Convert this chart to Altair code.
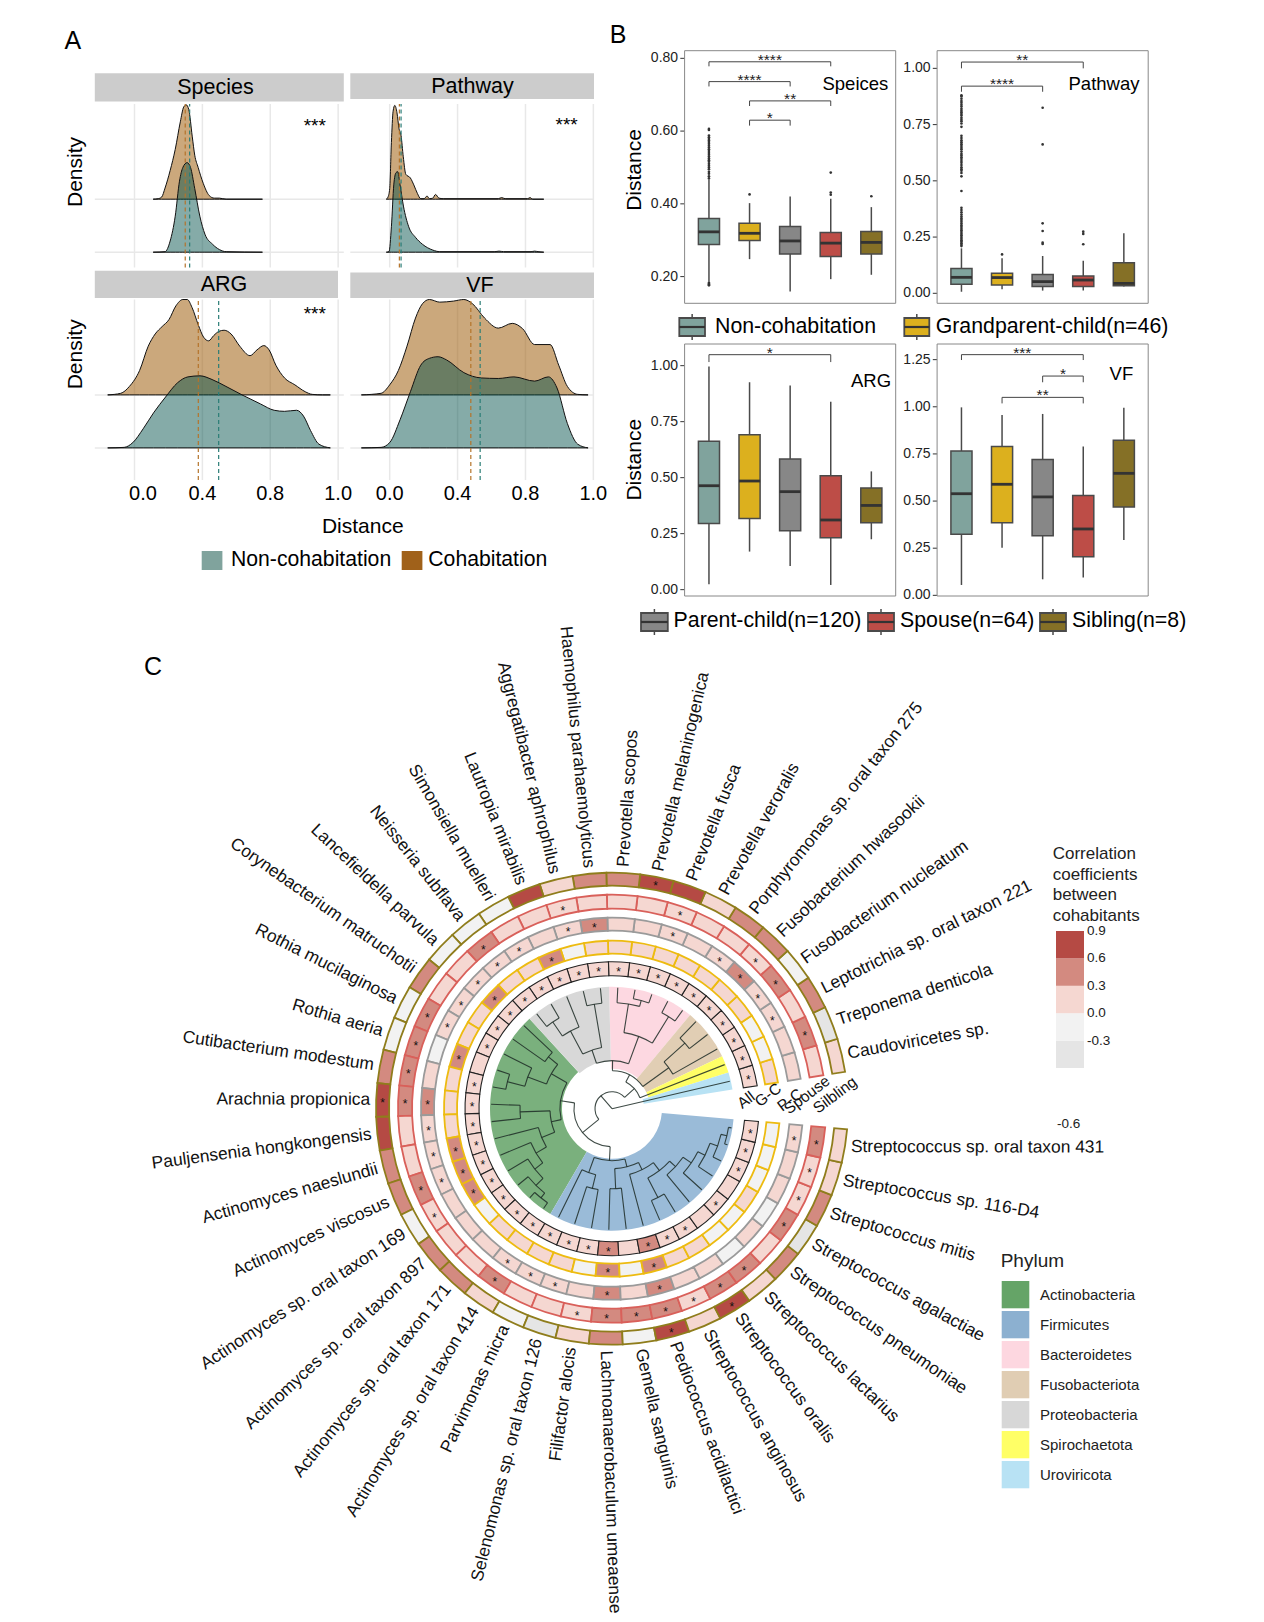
import altair as alt
import pandas as pd

FONT = "Liberation Sans"
W, H = 1248, 1606
ONE = alt.Data(values=[{"k": 0}])

# ---------- Panel A: ridge densities (x in distance units, h in ridge heights) ----------
sp_tan_x = [.11,.14,.16,.18,.21,.24,.27,.29,.305,.32,.34,.355,.375,.405,.44,.47,.50,.54,.754]
sp_tan_h = [0,.01,.04,.21,.54,.94,1.46,1.74,1.78,1.69,1.19,.83,.60,.30,.07,.02,.02,0,0]
sp_grn_x = [.11,.18,.21,.24,.265,.285,.31,.33,.355,.385,.415,.46,.50,.54,.754]
sp_grn_h = [0,.01,.21,.68,1.34,1.60,1.69,1.60,1.20,.68,.34,.15,.05,.01,0]
pw_tan_x = [-.02,-.01,0,.01,.02,.03,.043,.055,.067,.08,.095,.122,.142,.163,.183,.203,.22,.234,.254,.27,.29,.315,.64,.66,.68,.813,.827,.843,.908]
pw_tan_h = [0,.04,.2,1.07,1.66,1.77,1.63,1.33,1.2,.8,.47,.4,.27,.11,.01,.01,.06,.01,.02,.09,.02,.01,.01,.03,.01,.01,.03,0,0]
pw_grn_x = [-.02,-.004,.01,.024,.037,.047,.061,.081,.112,.152,.193,.254,.295,.62,.644,.671,.833,.854,.874,.908]
pw_grn_h = [0,.01,.48,1.27,1.5,1.52,1.27,.87,.48,.28,.15,.04,.01,.01,.02,.01,.01,.02,.01,0]
ar_tan_x = [-.158,-.081,-.03,.03,.081,.122,.163,.203,.244,.285,.311,.339,.376,.407,.437,.467,.498,.528,.569,.62,.681,.722,.762,.793,.833,.884,.945,1.006,1.047,1.108,1.154]
ar_tan_h = [0,.03,.16,.46,.92,1.15,1.29,1.42,1.68,1.8,1.8,1.65,1.32,1.09,1.02,1.12,1.2,1.22,1.15,.92,.74,.85,.93,.85,.56,.32,.19,.06,.01,0,0]
ar_grn_x = [-.158,-.061,-.01,.051,.112,.183,.254,.315,.386,.457,.539,.64,.742,.823,.884,.955,.996,1.037,1.087,1.154]
ar_grn_h = [0,.01,.1,.36,.66,.96,1.23,1.34,1.36,1.29,1.16,.99,.83,.71,.69,.71,.6,.33,.07,0]
vf_tan_x = [-.167,-.051,0,.051,.102,.152,.193,.234,.295,.376,.437,.488,.559,.64,.722,.783,.854,.945,.996,1.047,1.108,1.169]
vf_tan_h = [0,.03,.19,.46,.92,1.45,1.72,1.8,1.75,1.77,1.8,1.72,1.45,1.26,1.35,1.25,.95,.95,.56,.16,.01,0]
vf_grn_x = [-.167,-.051,0,.061,.122,.183,.234,.285,.335,.437,.539,.64,.732,.854,.935,.986,1.047,1.108,1.169]
vf_grn_h = [0,.01,.1,.53,1.06,1.56,1.69,1.72,1.66,1.42,1.32,1.31,1.34,1.26,1.34,1.13,.46,.07,0]
ridge_ticks = [0, .4, .8, 1.2]
ridge_tick_text = ["0.0", "0.4", "0.8", "1.0"]

# ---------- Panel B: box statistics ----------
groups = ["Non-cohabitation", "Grandparent-child(n=46)", "Parent-child(n=120)", "Spouse(n=64)", "Sibling(n=8)"]
box_colors = ["#80a39d", "#dcb01e", "#878787", "#bd4d47", "#857026"]

bs_lo = [.186,.248,.159,.193,.205]
bs_q1 = [.288,.299,.262,.255,.262]
bs_md = [.323,.319,.298,.292,.294]
bs_q3 = [.360,.347,.338,.321,.324]
bs_hi = [.466,.402,.42,.414,.391]
bs_out = [[.470,.476,.483,.488,.495,.5,.505,.51,.516,.52,.525,.53,.535,.54,.545,.55,.555,.56,.565,.57,.574,.578,.583,.588,.603,.606,.183,.18,.178,.176],
          [.426],[],[.486,.431,.425],[.421]]
bs_br = [(1,4,.7905,.778,"****"),(1,3,.736,.7227,"****"),(2,4,.683,.669,"**"),(2,3,.630,.615,"*")]

bp_lo = [.007,.018,.012,.012,.03]
bp_q1 = [.040,.037,.03,.03,.034]
bp_md = [.071,.070,.052,.059,.044]
bp_q3 = [.110,.089,.084,.077,.136]
bp_hi = [.2,.156,.166,.145,.267]
bp_out = [[.21,.216,.223,.23,.236,.243,.25,.258,.265,.272,.28,.287,.295,.302,.31,.318,.326,.333,.341,.35,.36,.37,.38,
           .455,.52,.535,.545,.552,.56,.57,.58,.588,.597,.605,.613,.62,.63,.64,.647,.655,.663,.672,.68,.69,.70,.74,
           .755,.765,.772,.78,.79,.797,.805,.812,.82,.83,.838,.847,.855,.865,.875,.88],
          [.173],[.825,.662,.311,.277,.225,.219],[.274,.264,.218],[]]
bp_br = [(1,4,1.028,1.0,"**"),(1,3,.921,.896,"****")]

ba_lo = [.024,.170,.106,.021,.225]
ba_q1 = [.295,.318,.263,.232,.299]
ba_md = [.464,.485,.4375,.311,.376]
ba_q3 = [.662,.692,.583,.509,.454]
ba_hi = [.996,.926,.911,.839,.528]
ba_br = [(1,4,1.049,1.016,"*")]

bv_lo = [.055,.253,.085,.095,.293]
bv_q1 = [.324,.385,.316,.205,.469]
bv_md = [.539,.589,.522,.352,.647]
bv_q3 = [.766,.790,.72,.530,.822]
bv_hi = [.997,.956,.962,.79,.995]
bv_br = [(1,4,1.2765,1.248,"***"),(3,4,1.163,1.13,"*"),(2,4,1.05,1.018,"**")]

# ---------- Panel C: circular heat map ----------
species = ["Caudoviricetes sp.","Treponema denticola","Leptotrichia sp. oral taxon 221","Fusobacterium nucleatum",
 "Fusobacterium hwasookii","Porphyromonas sp. oral taxon 275","Prevotella veroralis","Prevotella fusca",
 "Prevotella melaninogenica","Prevotella scopos","Haemophilus parahaemolyticus","Aggregatibacter aphrophilus",
 "Lautropia mirabilis","Simonsiella muelleri","Neisseria subflava","Lancefieldella parvula",
 "Corynebacterium matruchotii","Rothia mucilaginosa","Rothia aeria","Cutibacterium modestum","Arachnia propionica",
 "Pauljensenia hongkongensis","Actinomyces naeslundii","Actinomyces viscosus","Actinomyces sp. oral taxon 169",
 "Actinomyces sp. oral taxon 897","Actinomyces sp. oral taxon 171","Actinomyces sp. oral taxon 414","Parvimonas micra",
 "Selenomonas sp. oral taxon 126","Filifactor alocis","Lachnoanaerobaculum umeaense","Gemella sanguinis",
 "Pediococcus acidilactici","Streptococcus anginosus","Streptococcus oralis","Streptococcus lactarius",
 "Streptococcus pneumoniae","Streptococcus agalactiae","Streptococcus mitis","Streptococcus sp. 116-D4",
 "Streptococcus sp. oral taxon 431"]
label_tilt = [3,3,3,2.5,2.5,3,1.5,2,2,1,0,0,0,0,0,0,0,0,-2,-2,-2,-1.5,-1.5,-2,-2.6,-4,-4,-3.5,-1,-4,-2,
              -3.5,-6,-5.5,-6,-5,-6.5,-7.5,-5,-9,-8,-9]
d, m, l, n, g = .75, .45, .15, -.15, -.45
ring_all = [l,l,l,l,l,l,l,l,l,l,l,l,l,l,l,l,l,l,l,l,l,l,l,l,l,l,l,l,l,l,l,m,l,m,l,l,l,l,l,l,l,l]
ring_gc  = [l,n,n,l,l,l,l,l,l,l,l,n,m,l,l,m,l,l,m,l,l,l,m,m,m,n,l,l,l,l,n,m,n,m,l,l,n,n,l,n,n,n]
ring_pc  = [l,l,l,l,m,l,l,l,l,l,m,l,l,l,l,l,l,l,n,l,m,l,l,l,l,l,l,l,l,l,l,m,l,m,l,l,n,l,n,l,l,l]
ring_sp  = [l,m,l,m,l,l,l,l,l,l,l,l,l,l,m,l,l,m,m,m,m,l,l,m,l,l,l,m,l,l,l,m,m,m,l,m,m,l,m,l,l,m]
ring_si  = [l,g,m,n,m,m,l,d,d,m,m,l,d,n,n,n,m,n,n,m,d,d,m,m,n,m,m,l,n,g,l,m,n,d,l,d,l,m,g,m,l,l]
stars_all = [i for i in range(42) if i not in (18,32,36,38)]
stars_gc = [12,15,18,22,23,24,31,33]
stars_pc = [2,3,4,5,7,10,11,13,14,15,16,17,20,21,22,23,27,28,29,31,33,41]
stars_sp = [1,3,4,7,11,14,17,18,19,20,23,24,27,30,31,32,33,34,35,36,38,39,40,41]
stars_si = [8,20,33,35]

phyla = ["Actinobacteria","Firmicutes","Bacteroidetes","Fusobacteriota","Proteobacteria","Spirochaetota","Uroviricota"]
phylum_colors = ["#7ab07d","#9abbd8","#fdd8e1","#e1ceb4","#d8d8d8","#ffff66","#b8e2f4"]
phylum_first = [15,28,5,2,10,1,0]
phylum_last = [28,42,10,5,15,2,1]
phylum_inner = [50,50,40,38,48,38,32]

FUSO = (70,[2,(98,[3,4])])
BACT = (77,[(108,[5,6]),(106,[(112,[7,8]),9])])
PROT = (62,[(106,[10,11]),(88,[12,(105,[13,14])])])
ACTI = (52,[(70,[(82,[15,16]),(90,[17,(108,[18,19])])]),
            (62,[(92,[20,21]),(76,[22,(88,[23,(98,[24,(108,[25,(114,[26,27])])])])])])])
FIRM = (52,[(68,[28,(82,[29,30])]),
            (60,[(80,[31,32]),(68,[33,(78,[(100,[34,35]),(86,[36,(96,[37,(104,[38,(112,[39,(118,[40,41])])])])])])])])])
TREE = (0,[0,(17,[(30,[1,(38,[FUSO,(48,[BACT,PROT])])]),(38,[ACTI,FIRM])])])
LEAF_R = 121

heat_levels = [-.3, 0, .3, .6]
heat_colors = ["#e5e5e5","#f2f2f2","#f5d7d1","#d38a80","#b54a44"]

# ---------- helpers ----------
def label(text, x, y, size, angle=0, align="center", color="black"):
    return alt.Chart(ONE).mark_text(text=text, fontSize=size, font=FONT, align=align, baseline="middle",
                                    angle=angle, color=color).encode(x=alt.value(x-8), y=alt.value(y-8))

def rect(x0, x1, y0, y1, **kw):
    return alt.Chart(ONE).mark_rect(**kw).encode(x=alt.value(x0-8), x2=alt.value(x1-8), y=alt.value(y0-8), y2=alt.value(y1-8))

def vrule(x, y0, y1, **kw):
    return alt.Chart(ONE).mark_rule(**kw).encode(x=alt.value(x-8), y=alt.value(y0-8), y2=alt.value(y1-8))

def hrule(x0, x1, y, **kw):
    return alt.Chart(ONE).mark_rule(**kw).encode(x=alt.value(x0-8), x2=alt.value(x1-8), y=alt.value(y-8))

UNIT_X, UNIT_Y = 169.7, 53.0
TAN, GRN = "#a06010", "#005049"

def ridge_panel(curves, x0, xl, xr, y0, ytop, ybot, dash, dash_bot, tick_values=None):
    xs = alt.Scale(domain=[(xl-x0)/UNIT_X, (xr-x0)/UNIT_X], range=[xl-8, xr-8], nice=False, zero=False)
    ys = alt.Scale(domain=[(y0-ybot)/UNIT_Y, (y0-ytop)/UNIT_Y], range=[ybot-8, ytop-8], nice=False, zero=False)
    hi_v, lo_v = (y0-ytop)/UNIT_Y, (y0-ybot)/UNIT_Y
    vg = pd.DataFrame({"v": ridge_ticks, "lo": lo_v, "hi": hi_v, "s": ridge_tick_text})
    hg = pd.DataFrame({"b": [0, 1], "l": (xl-x0)/UNIT_X, "r": (xr-x0)/UNIT_X})
    parts = [
        alt.Chart(vg).mark_rule(color="#e8e8e8", strokeWidth=1.5).encode(
            x=alt.X("v:Q", scale=xs, axis=None), y=alt.Y("lo:Q", scale=ys, axis=None), y2="hi:Q"),
        alt.Chart(hg).mark_rule(color="#e8e8e8", strokeWidth=1.5).encode(
            x=alt.X("l:Q", scale=xs, axis=None), x2="r:Q", y=alt.Y("b:Q", scale=ys, axis=None)),
    ]
    if tick_values is not None:
        parts.append(alt.Chart(vg[vg.v.isin(tick_values)]).mark_text(font=FONT, fontSize=20, baseline="middle", color="black").encode(
            x=alt.X("v:Q", scale=xs, axis=None), y=alt.value(493.5-8), text="s:N"))
    for (cx, ch, base, col, op) in curves:
        df = pd.DataFrame({"x": cx, "top": [base+h for h in ch], "base": base})
        parts.append(alt.Chart(df).mark_area(interpolate="monotone", fill=col, fillOpacity=op, stroke="#111", strokeWidth=1).encode(
            x=alt.X("x:Q", scale=xs, axis=None), y=alt.Y("top:Q", scale=ys, axis=None), y2="base:Q"))
    dlo = (y0-dash_bot)/UNIT_Y
    for v, col in zip(dash, ["#b5742b", "#2a7d76"]):
        df = pd.DataFrame({"x": [v], "a": [dlo], "b": [hi_v]})
        parts.append(alt.Chart(df).mark_rule(color=col, strokeWidth=1.2, strokeDash=[4, 3]).encode(
            x=alt.X("x:Q", scale=xs, axis=None), y=alt.Y("a:Q", scale=ys, axis=None), y2="b:Q"))
    return alt.layer(*parts)

def box_panel(xl, xr, yt, yb, dom, ticks, lo, q1, md, q3, hi, outliers, brackets):
    xs = alt.Scale(domain=[.4, 5.6], range=[xl-8, xr-8], nice=False, zero=False)
    ys = alt.Scale(domain=dom, range=[yb-8, yt-8], nice=False, zero=False)
    df = pd.DataFrame({"p": [1,2,3,4,5], "lo": lo, "q1": q1, "md": md, "q3": q3, "hi": hi, "g": groups})
    df["a"] = df["p"]-.26
    df["b"] = df["p"]+.26
    xq = lambda f: alt.X(f, scale=xs, axis=None)
    yq = lambda f: alt.Y(f, scale=ys, axis=None)
    tk = pd.DataFrame({"v": ticks, "s": [f"{t:.2f}" for t in ticks]})
    parts = [
        alt.Chart(tk).mark_rule(color="#333", strokeWidth=1).encode(x=alt.value(xl-8-4.3), x2=alt.value(xl-8), y=yq("v:Q")),
        alt.Chart(tk).mark_text(font=FONT, fontSize=14, align="right", baseline="middle", color="#222").encode(
            x=alt.value(xl-8-6.5), y=yq("v:Q"), text="s:N"),
        alt.Chart(df).mark_rule(color="#4a4a4a", strokeWidth=1.5).encode(x=xq("p:Q"), y=yq("lo:Q"), y2="hi:Q"),
        alt.Chart(df).mark_rect(stroke="#4a4a4a", strokeWidth=1.5).encode(
            x=xq("a:Q"), x2="b:Q", y=yq("q1:Q"), y2="q3:Q",
            color=alt.Color("g:N", scale=alt.Scale(domain=groups, range=box_colors), legend=None)),
        alt.Chart(df).mark_rule(color="#333", strokeWidth=2.8).encode(x=xq("a:Q"), x2="b:Q", y=yq("md:Q")),
    ]
    rows = [{"p": i+1, "v": v} for i, vs in enumerate(outliers) for v in vs]
    if rows:
        parts.append(alt.Chart(pd.DataFrame(rows)).mark_circle(color="#333", size=7, opacity=1).encode(x=xq("p:Q"), y=yq("v:Q")))
    if brackets:
        br = pd.DataFrame([{"a": a, "b": b, "top": t, "tip": k, "mid": (a+b)/2, "s": s} for a, b, t, k, s in brackets])
        parts += [
            alt.Chart(br).mark_rule(color="#444", strokeWidth=1).encode(x=xq("a:Q"), x2="b:Q", y=yq("top:Q")),
            alt.Chart(br).mark_rule(color="#444", strokeWidth=1).encode(x=xq("a:Q"), y=yq("top:Q"), y2="tip:Q"),
            alt.Chart(br).mark_rule(color="#444", strokeWidth=1).encode(x=xq("b:Q"), y=yq("top:Q"), y2="tip:Q"),
            alt.Chart(br).mark_text(font=FONT, fontSize=15.5, baseline="middle", dy=-2, color="#222").encode(
                x=xq("mid:Q"), y=yq("top:Q"), text="s:N"),
        ]
    parts.append(rect(xl, xr, yt, yb, fill="white", fillOpacity=0, stroke="#888", strokeWidth=1))
    return alt.layer(*parts)

def swatch(x0, x1, y0, y1, wy0, wy1, col):
    xm = (x0+x1)/2
    ym = (y0+y1)/2
    return [vrule(xm, wy0, wy1, color="#4a4a4a", strokeWidth=1.5),
            rect(x0, x1, y0, y1, fill=col, stroke="#4a4a4a", strokeWidth=1.8),
            hrule(x0, x1, ym, color="#333", strokeWidth=2.2)]

# ---------- polar helpers ----------
CX, CY = 612-8, 1108.7-8
TH = alt.Scale(type="linear", domain=[0, 42], range=[1.41372, -4.62512], nice=False, zero=False)
RS = alt.Scale(type="linear", domain=[0, 300], range=[0, 300], nice=False, zero=False)
POS = dict(x=alt.value(CX), y=alt.value(CY))
def T(f): return alt.Theta(f, scale=TH, stack=None)
def R(f): return alt.Radius(f, scale=RS, stack=None)

def ring(values, stars, r0, r1, col, sw=1.6):
    df = pd.DataFrame({"t0": list(range(42)), "t1": [i+1 for i in range(42)], "v": values, "r0": r0, "r1": r1})
    cells = alt.Chart(df).mark_arc(stroke=col, strokeWidth=sw).encode(
        theta=T("t0:Q"), theta2="t1:Q", radius=R("r1:Q"), radius2="r0:Q",
        color=alt.Color("v:Q", scale=alt.Scale(type="threshold", domain=heat_levels, range=heat_colors), legend=None), **POS)
    sd = pd.DataFrame({"t": [i+.5 for i in stars], "r": (r0+r1)/2})
    st = alt.Chart(sd).mark_text(text="*", font=FONT, fontSize=12, baseline="middle", dy=3, color="#111").encode(
        theta=T("t:Q"), radius=R("r:Q"), **POS)
    return [cells, st]

def tree_segments(node):
    if isinstance(node, int):
        return node+.5, LEAF_R, []
    r, kids = node
    segs, ts = [], []
    for k in kids:
        t, kr, s = tree_segments(k)
        segs += s
        segs.append({"t0": t, "t1": t, "r0": r, "r1": kr})
        ts.append(t)
    if r > 0:
        segs.append({"t0": min(ts), "t1": max(ts), "r0": r, "r1": r})
    return sum(ts)/len(ts), r, segs

# ---------- assemble ----------
layers = []
layers += [label("A", 72.8, 41, 25), label("B", 618, 35, 25), label("C", 153, 667, 25)]

XL0, XR0 = 134.5, 389.7
# Panel A
strips = [("Species", 94.8, 343.8, 73.3, 101.4, 215.5), ("Pathway", 350.3, 594, 73.3, 99, 472.4),
          ("ARG", 94.8, 338, 270.8, 298, 224), ("VF", 350.3, 594, 272.5, 298, 480)]
for name, a, b, c, e, tx in strips:
    layers.append(rect(a, b, c, e, fill="#cccccc"))
    layers.append(label(name, tx, (c+e)/2+1, 21.5))
layers.append(ridge_panel([(sp_tan_x, sp_tan_h, 1, TAN, .55), (sp_grn_x, sp_grn_h, 0, GRN, .48)], XL0, 94.8, 343.8, 252.2, 104, 267.5, [.299, .325], 267.5))
layers.append(ridge_panel([(pw_tan_x, pw_tan_h, 1, TAN, .55), (pw_grn_x, pw_grn_h, 0, GRN, .48)], XR0, 350.3, 594, 252.2, 104, 267.5, [.057, .067], 267.5))
layers.append(ridge_panel([(ar_tan_x, ar_tan_h, 1, TAN, .55), (ar_grn_x, ar_grn_h, 0, GRN, .48)], XL0, 94.8, 343.8, 447.9, 299.5, 480, [.376, .496], 480, [.4, .8, 1.2]))
layers.append(ridge_panel([(vf_tan_x, vf_tan_h, 1, TAN, .55), (vf_grn_x, vf_grn_h, 0, GRN, .48)], XR0, 350.3, 594, 447.9, 299.5, 480, [.478, .533], 480, [0, .4, .8, 1.2]))
layers.append(label("0.0", 143, 493.5, 20))
layers += [label("***", 314.8, 126, 19), label("***", 566.6, 124.5, 19), label("***", 314.8, 314, 19)]
layers += [label("Density", 75.9, 172, 21, angle=270), label("Density", 75.9, 354.3, 21, angle=270), label("Distance", 362.8, 526.8, 21)]
layers += [rect(201.7, 222.4, 551, 570, fill="#80a39d"), rect(401.7, 422.4, 551, 570, fill="#a0611a"),
           label("Non-cohabitation", 231, 560, 21.2, align="left"), label("Cohabitation", 428.3, 560, 21.2, align="left")]

# Panel B
layers.append(box_panel(684.6, 895.7, 50.7, 303.3, [.1266, .821], [.2, .4, .6, .8], bs_lo, bs_q1, bs_md, bs_q3, bs_hi, bs_out, bs_br))
layers.append(box_panel(937.1, 1148.2, 50.7, 303.3, [-.0444, 1.0785], [0, .25, .5, .75, 1], bp_lo, bp_q1, bp_md, bp_q3, bp_hi, bp_out, bp_br))
layers.append(box_panel(684.6, 895.7, 344, 596, [-.0283, 1.0967], [0, .25, .5, .75, 1], ba_lo, ba_q1, ba_md, ba_q3, ba_hi, [[]]*5, ba_br))
layers.append(box_panel(937.1, 1148.2, 344, 596, [-.0035, 1.333], [0, .25, .5, .75, 1, 1.25], bv_lo, bv_q1, bv_md, bv_q3, bv_hi, [[]]*5, bv_br))
layers += [label("Speices", 855.4, 84, 18.5), label("Pathway", 1104, 84, 18.5), label("ARG", 871, 380.7, 18.5), label("VF", 1121.4, 374.3, 18.5)]
layers += [label("Distance", 634.6, 170, 21, angle=270), label("Distance", 634.6, 459.7, 21, angle=270)]
layers += swatch(679.3, 705, 318, 336, 314, 340, box_colors[0]) + swatch(904.3, 929.3, 318, 336, 314, 340, box_colors[1])
layers += [label(groups[0], 715, 327, 21.3, align="left"), label(groups[1], 935.7, 327, 21.3, align="left")]
layers += swatch(641, 667.8, 613, 631, 609, 635, box_colors[2]) + swatch(868, 894, 613, 631, 609, 635, box_colors[3]) + swatch(1040, 1066, 613, 631, 609, 635, box_colors[4])
layers += [label(groups[2], 673.6, 621, 21.3, align="left"), label(groups[3], 900, 621, 21.3, align="left"), label(groups[4], 1072, 621, 21.3, align="left")]

# Panel C
wedges = pd.DataFrame({"phylum": phyla, "t0": phylum_first, "t1": phylum_last, "r0": phylum_inner, "r1": 122})
layers.append(alt.Chart(wedges).mark_arc().encode(
    theta=T("t0:Q"), theta2="t1:Q", radius=R("r1:Q"), radius2="r0:Q",
    color=alt.Color("phylum:N", scale=alt.Scale(domain=phyla, range=phylum_colors), legend=None), **POS))
tree_df = pd.DataFrame(tree_segments(TREE)[2])
layers.append(alt.Chart(tree_df).mark_arc(fill="white", fillOpacity=0, stroke="#1d2b26", strokeOpacity=.85, strokeWidth=1.1).encode(
    theta=T("t0:Q"), theta2="t1:Q", radius=R("r1:Q"), radius2="r0:Q", **POS))
layers += ring(ring_all, stars_all, 133, 147, "#222222", 1.1)
layers += ring(ring_gc, stars_gc, 155, 168, "#edbb10", 1.8)
layers += ring(ring_pc, stars_pc, 178, 191, "#9a9a9a", 1.8)
layers += ring(ring_sp, stars_sp, 200, 214, "#d9605a", 1.8)
layers += ring(ring_si, stars_si, 223, 236, "#8f7d1c", 1.8)

rows = []
for i, s in enumerate(species):
    th = 81-(i+.5)*(346/42)
    right = i <= 9 or i >= 31
    rows.append({"s": s, "t": i+.5, "r": 242, "ang": (((th-90) if right else (th+90))+label_tilt[i]) % 360, "side": "R" if right else "L"})
lab = pd.DataFrame(rows)
for side, al in (("R", "left"), ("L", "right")):
    layers.append(alt.Chart(lab[lab.side == side]).mark_text(font=FONT, fontSize=17.4, align=al, baseline="middle", color="#111").encode(
        theta=T("t:Q"), radius=R("r:Q"), angle=alt.Angle("ang:Q", scale=None), text="s:N", **POS))
for t, x, y in [("All", 746, 1100), ("G-C", 768, 1095), ("P-C", 790, 1100), ("Spouse", 807, 1095), ("Silbling", 835, 1095)]:
    layers.append(label(t, x, y, 15.5, angle=323, color="#111"))

# Colour-bar legend
for i, t in enumerate(["Correlation", "coefficients", "between", "cohabitants"]):
    layers.append(label(t, 1052.7, 854+i*20.7, 17, align="left", color="#222"))
bar_lo = [-.6, -.3, 0, .3, .6]
bar_hi = [-.3, 0, .3, .6, .9]
bar = pd.DataFrame({"a": bar_lo, "b": bar_hi, "v": [(p+q)/2 for p, q in zip(bar_lo, bar_hi)]})
bys = alt.Scale(domain=[-.6, .9], range=[1068-8, 931-8], nice=False, zero=False)
layers.append(alt.Chart(bar).mark_rect().encode(
    x=alt.value(1056-8), x2=alt.value(1084-8), y=alt.Y("a:Q", scale=bys, axis=None), y2="b:Q",
    color=alt.Color("v:Q", scale=alt.Scale(type="threshold", domain=heat_levels, range=heat_colors), legend=None)))
bl = pd.DataFrame({"v": [.9, .6, .3, 0, -.3], "s": ["0.9", "0.6", "0.3", "0.0", "-0.3"]})
layers.append(alt.Chart(bl).mark_text(font=FONT, fontSize=13.5, align="left", baseline="middle", color="#222").encode(
    x=alt.value(1087-8), y=alt.Y("v:Q", scale=bys, axis=None), text="s:N"))
layers.append(label("-0.6", 1057, 1124, 13.5, align="left", color="#222"))

# Phylum legend
layers.append(label("Phylum", 1000.7, 1260.7, 19, align="left", color="#222"))
for i, (p, c) in enumerate(zip(phyla, ["#65a467", "#8cb0d0", "#fdd7e0", "#e0cdb3", "#d7d7d7", "#ffff66", "#b8e2f4"])):
    layers.append(rect(1001.7, 1029.3, 1281+i*30, 1308.3+i*30, fill=c))
    layers.append(label(p, 1040, 1294.7+i*30, 15, align="left", color="#222"))

chart = alt.layer(*layers).resolve_scale(x="independent", y="independent", color="independent").properties(
    width=W, height=H, padding=0, autosize=alt.AutoSizeParams(type="none")).configure_view(stroke=None)

chart.save("out.html", embed_options={"renderer": "svg", "actions": False})
